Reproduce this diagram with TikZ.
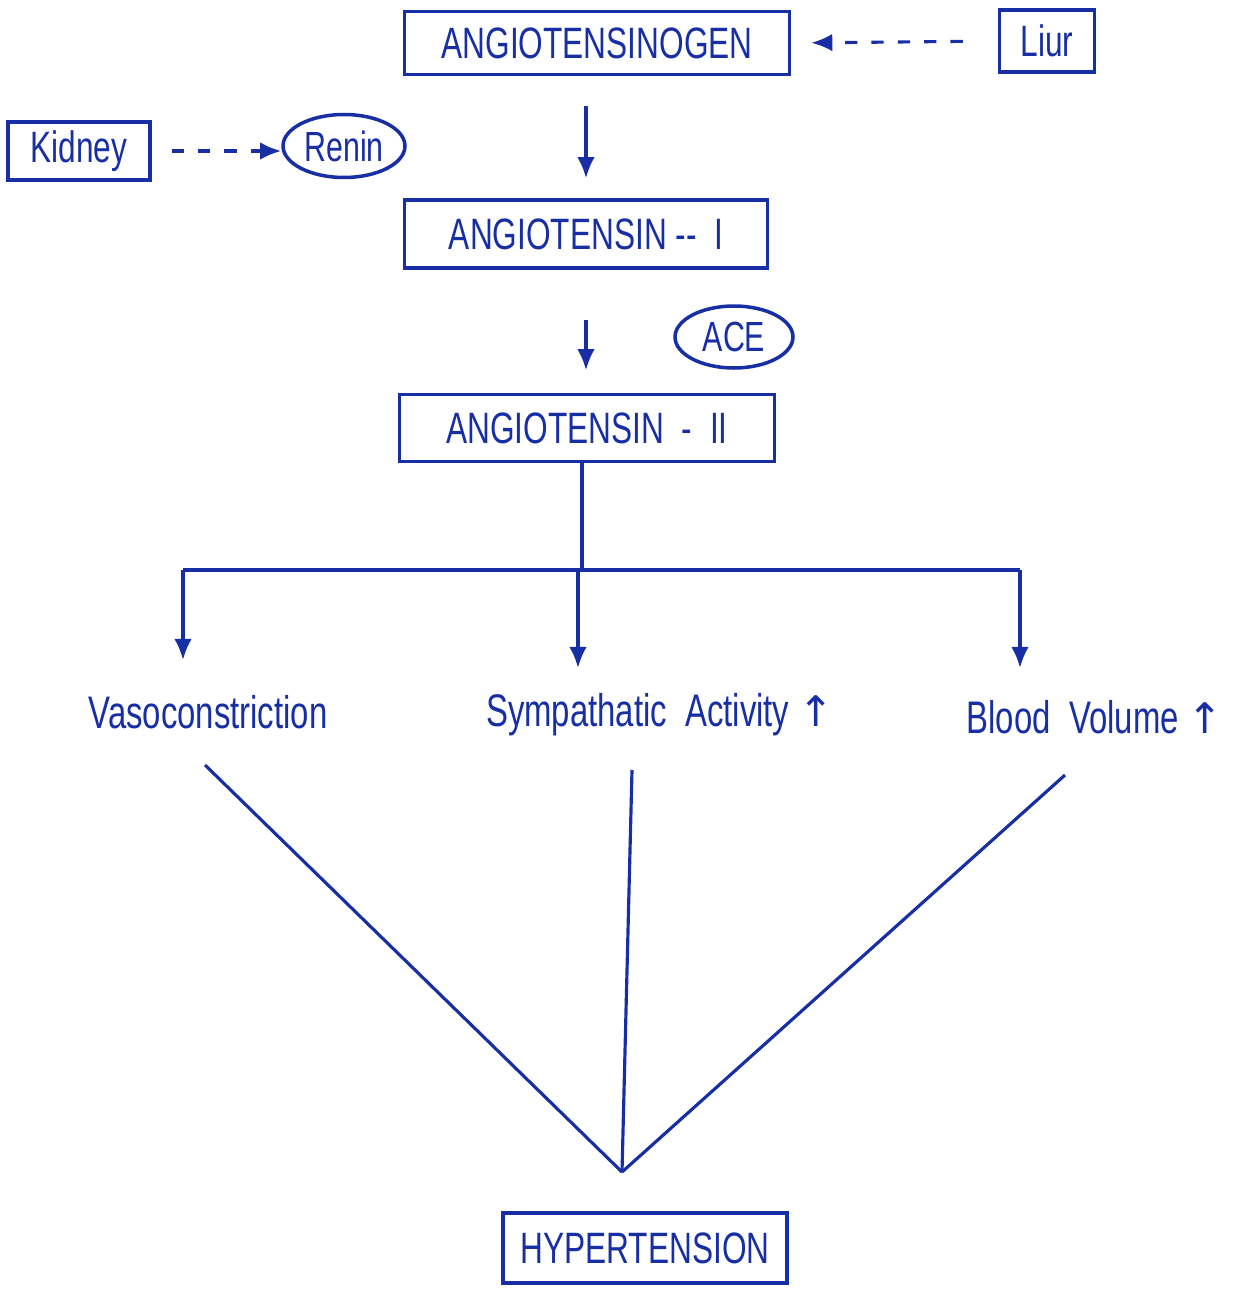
\documentclass[tikz,border=0pt]{standalone}
\usepackage{fontspec}
\usetikzlibrary{arrows.meta,shapes.geometric}
\newfontfamily\handfont[FakeStretch=0.72]{Liberation Sans}
\newfontfamily\arrowfont{DejaVu Sans}
\definecolor{handblue}{RGB}{24,46,165}
\begin{document}
\begin{tikzpicture}[x=0.02cm,y=-0.02cm,
  every node/.style={text=handblue,font=\handfont},
  boxnode/.style={draw=handblue,line width=2pt,inner sep=0pt,font=\handfont\fontsize{25}{28}\selectfont},
  ovalnode/.style={ellipse,draw=handblue,line width=2pt,inner sep=0pt,font=\handfont\fontsize{24}{28}\selectfont},
  labelnode/.style={inner sep=0pt,font=\handfont\fontsize{26}{30}\selectfont},
  conn/.style={draw=handblue,line width=1.8pt},
  arr/.style={conn,-{Latex[length=12pt,width=10pt]}},
  dasharr/.style={arr,dash pattern=on 7pt off 8pt}]
\useasboundingbox (0,0) rectangle (1256,1291);
% boxes
\node[boxnode,minimum width=7.7cm,minimum height=1.26cm] (gen) at (597,43) {ANGIOTENSINOGEN};
\node[boxnode,minimum width=1.9cm,minimum height=1.24cm] (liur) at (1047,41) {Liur};
\node[boxnode,minimum width=2.84cm,minimum height=1.16cm] (kidney) at (79,151) {Kidney};
\node[ovalnode,minimum width=2.44cm,minimum height=1.26cm] (renin) at (344,146) {Renin};
\node[boxnode,minimum width=7.26cm,minimum height=1.36cm] (a1) at (586,234) {ANGIOTENSIN -- \ I};
\node[ovalnode,minimum width=2.36cm,minimum height=1.24cm] (ace) at (734,337) {ACE};
\node[boxnode,minimum width=7.5cm,minimum height=1.34cm] (a2) at (587,428) {ANGIOTENSIN \ - \ II};
\node[labelnode] (vaso) at (208,712) {Vasoconstriction};
\node[labelnode] (symp) at (660,715) {Sympathatic\ \ Activity\ {\arrowfont\fontsize{24}{28}\selectfont ↑}};
\node[labelnode] (blood) at (1095,717) {Blood\ \ Volume\ {\arrowfont\fontsize{24}{28}\selectfont ↑}};
\node[boxnode,minimum width=5.68cm,minimum height=1.4cm] (hyp) at (645,1248) {HYPERTENSION};
% coordinates
\coordinate (j) at (582,570);
\coordinate (jl) at (183,570);
\coordinate (jr) at (1020,570);
\coordinate (tv) at (183,660);
\coordinate (ts) at (578,668);
\coordinate (tb) at (1020,668);
\coordinate (sv) at (205,765);
\coordinate (ss) at (632,770);
\coordinate (sb) at (1065,775);
\coordinate (h) at (622,1172);
% connectors
\draw[dasharr,shorten <=0.7cm,shorten >=0.4cm] (liur.west) -- (gen.east);
\draw[dasharr,shorten <=0.4cm] (kidney.east) -- (kidney.east -| renin.west);
\draw[arr,shorten <=0.6cm,shorten >=0.4cm] (gen.south -| a1.north) -- (a1.north);
\draw[arr,shorten <=1.0cm,shorten >=0.45cm] (a1.south) -- (a1.south |- a2.north);
\draw[conn] (a2.south -| j) -- (j);
\draw[conn] (jl) -- (jr);
\draw[arr] (jl) -- (tv);
\draw[arr] (ts |- j) -- (ts);
\draw[arr] (jr) -- (tb);
\draw[conn] (sv) -- (h);
\draw[conn] (ss) -- (h);
\draw[conn] (sb) -- (h);
\end{tikzpicture}
\end{document}
